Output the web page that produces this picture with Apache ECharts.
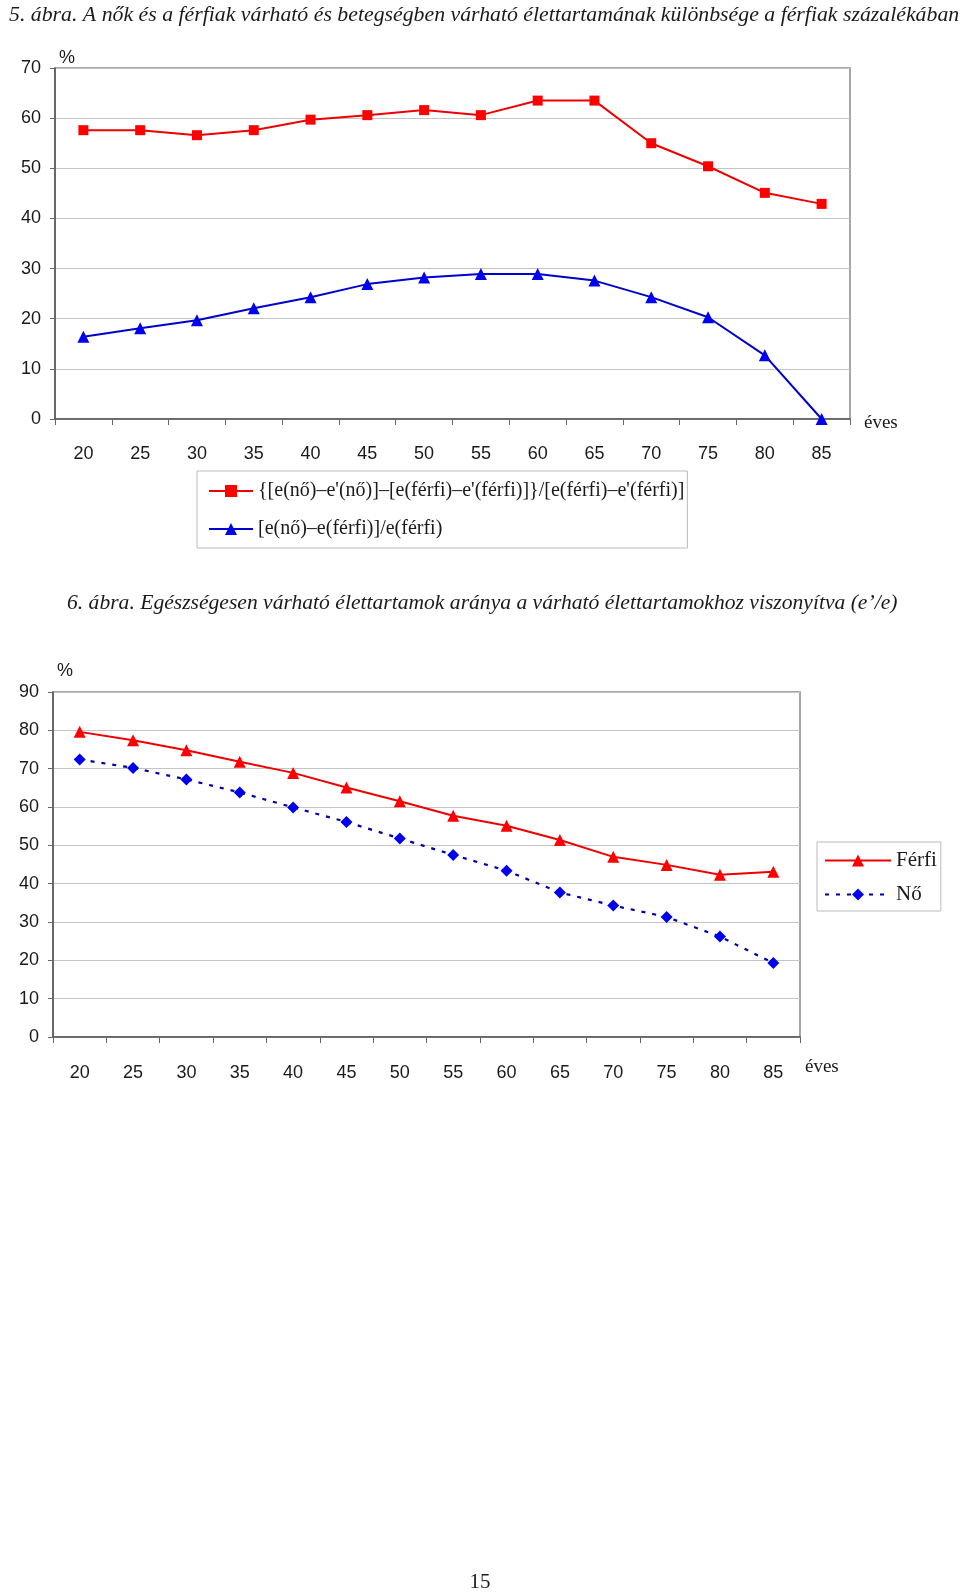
<!DOCTYPE html>
<html>
<head>
<meta charset="utf-8">
<script src="https://cdn.jsdelivr.net/npm/echarts@6/dist/echarts.min.js"></script>
<style>
  html, body { margin: 0; padding: 0; background: #fff; }
  #chart { width: 960px; height: 1592px; }
</style>
</head>
<body>
<div id="chart"></div>
<script>
// ---- Data ----
const ages = ['20','25','30','35','40','45','50','55','60','65','70','75','80','85'];

// Chart 5
const diffHealthy = [57.6, 57.6, 56.6, 57.6, 59.7, 60.6, 61.6, 60.6, 63.5, 63.5, 55.0, 50.4, 45.1, 42.9];
const diffLife    = [16.4, 18.1, 19.7, 22.1, 24.3, 26.9, 28.2, 28.9, 28.9, 27.6, 24.3, 20.3, 12.7, 0.0];
const name5a = "{[e(nő)–e'(nő)]–[e(férfi)–e'(férfi)]}/[e(férfi)–e'(férfi)]";
const name5b = "[e(nő)–e(férfi)]/e(férfi)";

// Chart 6
const ferfi = [79.6, 77.4, 74.8, 71.8, 68.9, 65.1, 61.5, 57.7, 55.1, 51.4, 47.0, 44.9, 42.3, 43.1];
const no    = [72.4, 70.2, 67.2, 63.8, 59.9, 56.1, 51.8, 47.5, 43.4, 37.7, 34.3, 31.3, 26.2, 19.3];

const title5 = "5. ábra. A nők és a férfiak várható és betegségben várható élettartamának különbsége a férfiak százalékában";
const title6 = "6. ábra. Egészségesen várható élettartamok aránya a várható élettartamokhoz viszonyítva (e’/e)";
const pageNo = "15";

// ---- Styles ----
const SANS = '"Liberation Sans", Arial, sans-serif';
const SERIF = '"Liberation Serif", "Times New Roman", serif';
const RED = '#ee0000';
const BLUE = '#0000cc';
const axisLabel = { color: '#1a1a1a', fontFamily: SANS, fontSize: 18 };

function xAxis(gridIndex, nameGap, nameLH, labelMargin) {
  return {
    type: 'category', gridIndex, data: ages, boundaryGap: true,
    name: 'éves', nameLocation: 'end', nameGap,
    nameTextStyle: { fontFamily: SERIF, fontSize: 19, color: '#1a1a1a', verticalAlign: 'top', align: 'left', lineHeight: nameLH },
    axisLine: { show: true, lineStyle: { color: '#555', width: 1.5 } },
    axisTick: { show: true, interval: 0, length: 6, lineStyle: { color: '#666' } },
    axisLabel: Object.assign({ margin: labelMargin, interval: 0 }, axisLabel),
    splitLine: { show: false }
  };
}
function yAxis(gridIndex, max, nameGap) {
  return {
    type: 'value', gridIndex, min: 0, max, interval: 10,
    name: '%', nameLocation: 'end', nameGap,
    nameTextStyle: { fontFamily: SANS, fontSize: 18, color: '#1a1a1a', align: 'left', padding: [0, 0, 0, 4] },
    axisLine: { show: true, lineStyle: { color: '#555', width: 1.5 } },
    axisTick: { show: true, length: 5, lineStyle: { color: '#666' } },
    axisLabel: Object.assign({ margin: 14 }, axisLabel),
    splitLine: { show: true, lineStyle: { color: '#c4c4c4', width: 1.2 } }
  };
}

const chart = echarts.init(document.getElementById('chart'), null, { renderer: 'canvas' });
chart.setOption({
  backgroundColor: '#fff',
  animation: false,
  title: [
    { text: title5, left: 4, top: -1, textStyle: { fontFamily: SERIF, fontStyle: 'italic', fontWeight: 'normal', fontSize: 21.8, color: '#1a1a1a' } },
    { text: title6, left: 62, top: 587, textStyle: { fontFamily: SERIF, fontStyle: 'italic', fontWeight: 'normal', fontSize: 21.6, color: '#1a1a1a' } },
    { text: pageNo, left: 'center', top: 1567, textStyle: { fontFamily: SERIF, fontWeight: 'normal', fontSize: 21, color: '#1a1a1a' } }
  ],
  grid: [
    { left: 55, top: 68, width: 795, height: 351, show: true, borderColor: '#888', borderWidth: 1.5, backgroundColor: '#fff' },
    { left: 53, top: 692, width: 747, height: 345, show: true, borderColor: '#888', borderWidth: 1.5, backgroundColor: '#fff' }
  ],
  xAxis: [ xAxis(0, 14, 9, 26), xAxis(1, 5, 60, 27) ],
  yAxis: [ yAxis(0, 70, 1), yAxis(1, 90, 12) ],
  legend: [
    {
      data: [name5a, name5b], orient: 'vertical', left: 197, top: 471,
      padding: [10, 3, 9, 11], itemGap: 18, itemWidth: 44, itemHeight: 15,
      borderColor: '#bbb', borderWidth: 1, backgroundColor: '#fff',
      textStyle: { fontFamily: SERIF, fontSize: 20, color: '#1a1a1a' }
    },
    {
      data: ['Férfi', 'Nő'], orient: 'vertical', left: 817, top: 842,
      padding: [8, 4, 6, 7], itemGap: 13, itemWidth: 66, itemHeight: 15,
      borderColor: '#bbb', borderWidth: 1, backgroundColor: '#fff',
      textStyle: { fontFamily: SERIF, fontSize: 21, color: '#1a1a1a' }
    }
  ],
  series: [
    { name: name5a, type: 'line', xAxisIndex: 0, yAxisIndex: 0, data: diffHealthy,
      symbol: 'rect', symbolSize: 10, lineStyle: { color: RED, width: 2 }, itemStyle: { color: '#ff0000' } },
    { name: name5b, type: 'line', xAxisIndex: 0, yAxisIndex: 0, data: diffLife,
      symbol: 'triangle', symbolSize: 12, lineStyle: { color: BLUE, width: 2 }, itemStyle: { color: '#0000ee' } },
    { name: 'Férfi', type: 'line', xAxisIndex: 1, yAxisIndex: 1, data: ferfi,
      symbol: 'triangle', symbolSize: 12, lineStyle: { color: RED, width: 2 }, itemStyle: { color: '#ff0000' } },
    { name: 'Nő', type: 'line', xAxisIndex: 1, yAxisIndex: 1, data: no,
      symbol: 'diamond', symbolSize: 12, lineStyle: { color: '#0000aa', width: 2.2, type: [4, 7] }, itemStyle: { color: '#0000ee' } }
  ]
});
</script>
</body>
</html>
